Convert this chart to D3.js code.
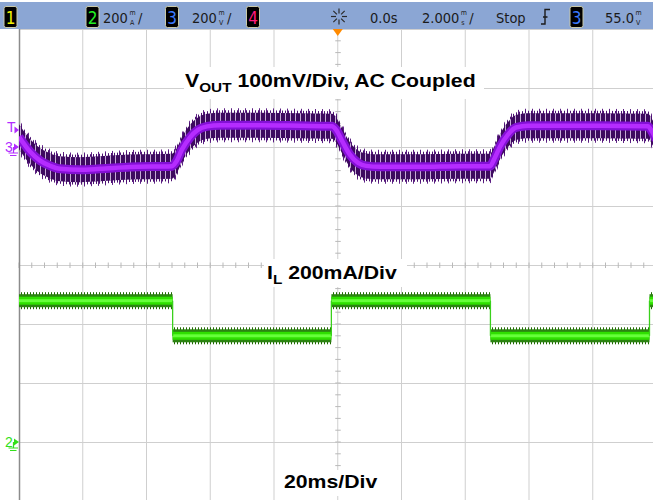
<!DOCTYPE html>
<html>
<head>
<meta charset="utf-8">
<script src="https://cdn.jsdelivr.net/npm/d3@7"></script>
<style>
  body { margin: 0; background: #fff; }
  svg { display: block; }
</style>
</head>
<body>
<script>
// scope capture of a load step: ch3 = Vout (AC coupled), ch2 = inductor current

// time axis, ms (20ms/div, 10 divisions)
const timeTicks = d3.range(-100, 101, 20)

// ch3 trace: Vout ripple centre, mV relative to the ch3 ground marker
const vTime = [-100, -96.5, -93.4, -90.2, -87.1, -80.9, -74.6, -65.2, -52.0, -50.7, -48.9,
  -46.4, -43.9, -41.0, -36.9, -24.4, -11.8, -1.8, -0.5, 1.3, 3.8, 6.4, 8.9, 13.3, 25.8,
  38.4, 47.8, 49.0, 50.9, 53.4, 55.9, 59.7, 69.7, 82.3, 97.3, 98.6, 99.9]
const vOut = [17.5, -8, -23, -32, -37, -38.5, -37, -34, -32.5, -25, -4.5,
  16, 29, 35, 37, 37, 36, 35, 29, 11, -13, -27, -32, -33.5, -33.5,
  -32.5, -32.5, -21.5, 0.5, 21, 33, 36, 36, 36, 35, 26, 12.5]
const trigLevel = 29 // mV, where the T marker sits

// ch2 trace: inductor current, mA, square load step
const iEdges = [-100, -51.8, -2.0, 47.9, 97.8, 100]
const iLevels = [479, 360, 479, 360, 479]

// header bar
const chanBoxes = [
  { label: '1', x: 4, color: '#f2f200' },
  { label: '2', x: 86, color: '#22ee22' },
  { label: '3', x: 165.5, color: '#3b7bff' },
  { label: '4', x: 246.5, color: '#ff1a7c' },
  { label: '3', x: 570, color: '#3b7bff' }
]
const headerTexts = [
  { text: '200', x: 103, up: 'm', down: 'A', slash: true },
  { text: '200', x: 192, up: 'm', down: 'V', slash: true },
  { text: '0.0s', x: 370 },
  { text: '2.000', x: 422, up: 'm', down: 's', slash: true },
  { text: 'Stop', x: 496 },
  { text: '55.0', x: 605, up: 'm', down: 'V' }
]

const width = 653
const height = 500
const plot = { left: 19, top: 29, right: 656.5, bottom: 501 }

const x = d3.scaleLinear().domain([-100, 100]).range([plot.left, plot.right])
const yDiv = d3.scaleLinear().domain([-4, 4]).range([plot.bottom, plot.top])
const yV = d3.scaleLinear().domain([0, 100]).range([yDiv(2), yDiv(3)])   // 100mV/div
const yI = d3.scaleLinear().domain([0, 200]).range([yDiv(-3), yDiv(-2)]) // 200mA/div

const svg = d3.select('body')
  .append('svg')
  .attr('width', width)
  .attr('height', height)
  .style('font-family', '"Liberation Sans", Arial, sans-serif')

const defs = svg.append('defs')
defs.append('clipPath').attr('id', 'screen')
  .append('rect')
    .attr('x', plot.left).attr('y', plot.top)
    .attr('width', plot.right - plot.left).attr('height', plot.bottom - plot.top)

function stripes(id, step, color, w, opacity) {
  defs.append('pattern')
      .attr('id', id)
      .attr('patternUnits', 'userSpaceOnUse')
      .attr('width', step)
      .attr('height', 10)
    .append('rect')
      .attr('width', w)
      .attr('height', 10)
      .attr('fill', color)
      .attr('fill-opacity', opacity)
}
stripes('pSpikeA', 7, '#5c1f84', 1, 1)
stripes('pSpikeB', 3, '#4a0f70', 1, 1)
stripes('pLight', 5, '#dcc8ea', 1, 0.85)
stripes('gSpike', 3, '#1f6800', 1, 1)

// ---- grid ----
const grid = svg.append('g')
grid.selectAll('.vgrid')
  .data(timeTicks.slice(1))
  .enter().append('line')
    .attr('x1', d => x(d)).attr('x2', d => x(d))
    .attr('y1', plot.top).attr('y2', plot.bottom)
    .attr('stroke', '#cfcfcf')
grid.selectAll('.hgrid')
  .data(d3.range(-3, 5))
  .enter().append('line')
    .attr('x1', plot.left).attr('x2', plot.right)
    .attr('y1', d => Math.round(yDiv(d)) + 0.5).attr('y2', d => Math.round(yDiv(d)) + 0.5)
    .attr('stroke', '#cfcfcf')

// minor ticks along the centre lines
grid.selectAll('.xminor')
  .data(d3.range(-100, 100.1, 4))
  .enter().append('line')
    .attr('x1', d => x(d)).attr('x2', d => x(d))
    .attr('y1', yDiv(0) - 2.5).attr('y2', yDiv(0) + 3)
    .attr('stroke', '#b9b9b9')
grid.selectAll('.yminor')
  .data(d3.range(-4, 4.01, 0.2))
  .enter().append('line')
    .attr('x1', x(0) - 2.5).attr('x2', x(0) + 3)
    .attr('y1', d => yDiv(d)).attr('y2', d => yDiv(d))
    .attr('stroke', '#b9b9b9')

// left screen edge
svg.append('line')
  .attr('x1', plot.left + 0.5).attr('x2', plot.left + 0.5)
  .attr('y1', plot.top).attr('y2', height)
  .attr('stroke', '#8c8c8c').attr('stroke-width', 1.5)

// ---- annotations (white boxes break the grid) ----
const notes = [
  { box: [184, 67, 300, 32], at: [185, 87], main: 'V', sub: 'OUT', rest: ' 100mV/Div, AC Coupled' },
  { box: [264, 259, 143, 28], at: [267, 279], main: 'I', sub: 'L', rest: ' 200mA/Div' },
  { box: [281, 470, 102, 26], at: [284, 488], main: '20ms/Div', sub: '', rest: '' }
]
notes.forEach(n => {
  svg.append('rect')
    .attr('x', n.box[0]).attr('y', n.box[1])
    .attr('width', n.box[2]).attr('height', n.box[3])
    .attr('fill', '#fff')
  const t = svg.append('text')
    .attr('transform', `translate(${n.at[0]},${n.at[1]}) scale(1.18,1)`)
    .attr('font-size', 18)
    .attr('font-weight', 'bold')
    .attr('fill', '#000')
  t.append('tspan').text(n.main)
  if (n.sub) {
    t.append('tspan').attr('font-size', 13).attr('dy', 5).text(n.sub)
    t.append('tspan').attr('dy', -5).text(n.rest)
  }
})

// ---- traces ----
const traces = svg.append('g').attr('clip-path', 'url(#screen)')
const vData = vTime.map((t, i) => ({ t, v: vOut[i] }))

const band = h => d3.area()
  .x(d => x(d.t))
  .y0(d => yV(d.v) + h)
  .y1(d => yV(d.v) - h)
  .curve(d3.curveMonotoneX)
const centre = d3.line()
  .x(d => x(d.t))
  .y(d => yV(d.v))
  .curve(d3.curveMonotoneX)

traces.append('path').attr('d', band(17)(vData)).attr('fill', 'url(#pSpikeA)')
traces.append('path').attr('d', band(15)(vData)).attr('fill', 'url(#pSpikeB)')
traces.append('path').attr('d', band(12.5)(vData)).attr('fill', '#3d0a5f')
traces.append('path').attr('d', band(12.5)(vData)).attr('fill', 'url(#pLight)')
traces.append('path').attr('d', centre(vData)).attr('fill', 'none')
  .attr('stroke', '#8410d6').attr('stroke-width', 9)
traces.append('path').attr('d', centre(vData)).attr('fill', 'none')
  .attr('stroke', '#b52cff').attr('stroke-width', 4.5)

// current: flat runs drawn as bands, edges as thin lines
const runs = iLevels.map((lvl, i) => ({ x1: x(iEdges[i]), x2: x(iEdges[i + 1]), y: yI(lvl) }))
const edges = iLevels.slice(1).map((lvl, i) => ({ x: x(iEdges[i + 1]), y1: yI(iLevels[i]), y2: yI(lvl) }))

const greenLayers = [
  { h: 8.5, fill: 'url(#gSpike)' },
  { h: 6.5, fill: '#2c8412' },
  { h: 4, fill: '#2fe000' },
  { h: 1.5, fill: '#66ff3a' }
]
greenLayers.forEach(layer => {
  traces.selectAll(null)
    .data(runs)
    .enter().append('rect')
      .attr('x', d => d.x1).attr('width', d => d.x2 - d.x1)
      .attr('y', d => d.y - layer.h).attr('height', layer.h * 2)
      .attr('fill', layer.fill)
})
traces.selectAll(null)
  .data(edges)
  .enter().append('line')
    .attr('x1', d => d.x).attr('x2', d => d.x)
    .attr('y1', d => d.y1).attr('y2', d => d.y2)
    .attr('stroke', '#3ad01c').attr('stroke-width', 1.3)

// ---- left markers ----
function groundMarker(y, label, color) {
  const g = svg.append('g').attr('fill', color).attr('stroke', color)
  g.append('text').attr('x', 5).attr('y', y + 5).attr('font-size', 14)
    .attr('stroke', 'none').text(label)
  g.append('path').attr('d', `M14,${y - 3.5} L19,${y} L14,${y + 3.5} Z`).attr('stroke', 'none')
  g.append('path').attr('fill', 'none').attr('stroke-width', 1.2)
    .attr('d', `M13.5,${y} V${y + 5.5} M8.5,${y + 6} H18 M10,${y + 8.5} H16.5`)
}
groundMarker(yV(0), '3', '#b22cff')
groundMarker(yI(0), '2', '#33e01a')

const trigY = yV(trigLevel)
svg.append('text').attr('x', 7).attr('y', trigY + 2).attr('font-size', 14)
  .attr('fill', '#b22cff').text('T')
svg.append('path').attr('d', `M14.5,${trigY - 3.5} L19,${trigY} L14.5,${trigY + 3.5} Z`)
  .attr('fill', '#b22cff')

// ---- header ----
const header = svg.append('g')
header.append('rect')
  .attr('x', 0).attr('y', 2).attr('width', width).attr('height', 27)
  .attr('fill', '#8ba6d4')

const narrow = '"DejaVu Sans Condensed", "Liberation Sans Narrow", sans-serif'

chanBoxes.forEach(b => {
  header.append('rect')
    .attr('x', b.x).attr('y', 6.5).attr('width', 13).attr('height', 21).attr('rx', 2)
    .attr('fill', '#000').attr('stroke', '#c9c9a8').attr('stroke-width', 1)
  header.append('text')
    .attr('x', b.x + 6.5).attr('y', 24)
    .attr('text-anchor', 'middle')
    .attr('font-family', narrow)
    .attr('font-size', 17)
    .attr('fill', b.color)
    .text(b.label)
})

headerTexts.forEach(h => {
  const main = header.append('text')
    .attr('x', h.x).attr('y', 23)
    .attr('font-family', narrow)
    .attr('font-size', 14.5)
    .attr('fill', '#1b1b1b')
    .text(h.text)
  let ux = h.x + main.node().getComputedTextLength() + 1.5
  if (h.up) {
    header.append('text').attr('x', ux).attr('y', 15).attr('font-size', 7)
      .attr('font-family', narrow).attr('fill', '#1b1b1b').text(h.up)
    header.append('text').attr('x', ux + 0.5).attr('y', 24.5).attr('font-size', 7)
      .attr('font-family', narrow).attr('fill', '#1b1b1b').text(h.down)
    ux += 8.5
  }
  if (h.slash) {
    header.append('text').attr('x', ux).attr('y', 23).attr('font-size', 14.5)
      .attr('font-family', narrow).attr('fill', '#1b1b1b').text('/')
  }
})

// acquisition "sun" icon
const sun = header.append('g').attr('transform', 'translate(339,16.5)')
  .attr('stroke', '#2a2a2a').attr('stroke-width', 1.2)
d3.range(8).forEach(k => {
  const a = k * Math.PI / 4
  sun.append('line')
    .attr('x1', 3 * Math.cos(a)).attr('y1', 3 * Math.sin(a))
    .attr('x2', 8 * Math.cos(a)).attr('y2', 8 * Math.sin(a))
})

// trigger edge symbol
header.append('path')
  .attr('d', 'M541,24 H545 V9.5 H550 M543,17 H547.5')
  .attr('fill', 'none').attr('stroke', '#1b1b1b').attr('stroke-width', 1.4)

// trigger position marker
svg.append('path')
  .attr('d', `M${x(0) - 5},29 L${x(0) + 5},29 L${x(0)},36 Z`)
  .attr('fill', '#ff8a00')
</script>
</body>
</html>
